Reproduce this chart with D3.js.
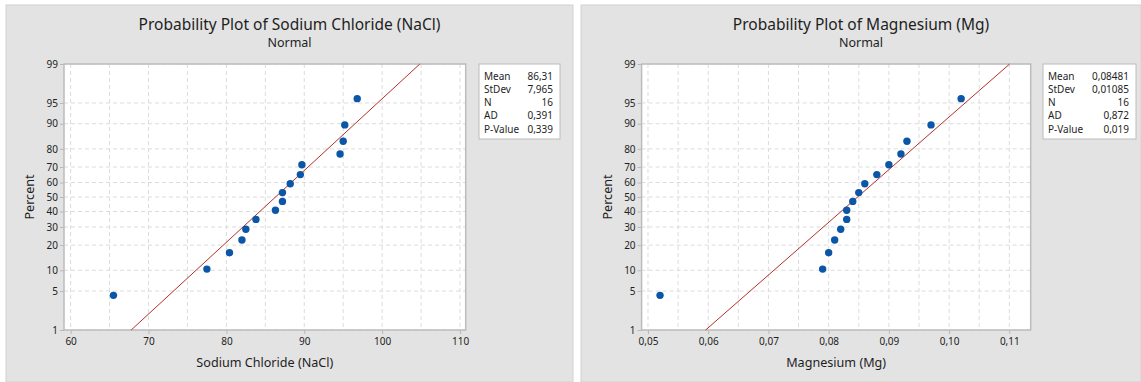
<!DOCTYPE html>
<html>
<head>
<meta charset="utf-8">
<script src="https://cdn.jsdelivr.net/npm/d3@7"></script>
<style>
  body { margin: 0; background: #fff; }
  svg text { font-family: "Noto Sans", "Open Sans", sans-serif; fill: #1e1e1e; }
</style>
</head>
<body>
<div id="chart"></div>
<script>
// percent scale ticks (normal probability axis)
const percentTicks = [1, 5, 10, 20, 30, 40, 50, 60, 70, 80, 90, 95, 99];
// plotting positions (percent) of the 16 sorted points
const plotPercents = [4.27, 10.37, 16.46, 22.56, 28.66, 34.76, 40.85, 46.95,
                      53.05, 59.15, 65.24, 71.34, 77.44, 83.54, 89.63, 95.73];

// Sodium chloride, sorted
const naclValues = [65.5, 77.5, 80.4, 82.0, 82.5, 83.8, 86.3, 87.2,
                    87.2, 88.2, 89.5, 89.7, 94.6, 95.0, 95.2, 96.8];
const naclTicks = [60, 70, 80, 90, 100, 110];
const naclGrid = [60, 65, 70, 75, 80, 85, 90, 95, 100, 105, 110];

// Magnesium, sorted
const mgValues = [0.052, 0.079, 0.080, 0.081, 0.082, 0.083, 0.083, 0.084,
                  0.085, 0.086, 0.088, 0.090, 0.092, 0.093, 0.097, 0.102];
const mgTicks = [0.05, 0.06, 0.07, 0.08, 0.09, 0.10, 0.11];
const mgGrid = [0.05, 0.055, 0.06, 0.065, 0.07, 0.075, 0.08, 0.085, 0.09, 0.095, 0.10, 0.105, 0.11];

// stats boxes
const statNames = ["Mean", "StDev", "N", "AD", "P-Value"];
const naclStats = ["86,31", "7,965", "16", "0,391", "0,339"];
const mgStats = ["0,08481", "0,01085", "16", "0,872", "0,019"];
const naclFit = { mean: 86.31, sd: 7.965 };
const mgFit = { mean: 0.08481, sd: 0.01085 };

const W = 1141, H = 382;

const svg = d3.select("#chart").append("svg")
    .attr("width", W)
    .attr("height", H);

// inverse normal cdf (Acklam) for the probability axis
function probit(p) {
    const a = [-3.969683028665376e+01, 2.209460984245205e+02, -2.759285104469687e+02, 1.383577518672690e+02, -3.066479806614716e+01, 2.506628277459239e+00];
    const b = [-5.447609879822406e+01, 1.615858368580409e+02, -1.556989798598866e+02, 6.680131188771972e+01, -1.328068155288572e+01];
    const c = [-7.784894002430293e-03, -3.223964580411365e-01, -2.400758277161838e+00, -2.549732539343734e+00, 4.374664141464968e+00, 2.938163982698783e+00];
    const d = [7.784695709041462e-03, 3.224671290700398e-01, 2.445134137142996e+00, 3.754408661907416e+00];
    const pl = 0.02425;
    let q, r;
    if (p < pl) {
        q = Math.sqrt(-2 * Math.log(p));
        return (((((c[0]*q+c[1])*q+c[2])*q+c[3])*q+c[4])*q+c[5]) / ((((d[0]*q+d[1])*q+d[2])*q+d[3])*q+1);
    }
    if (p > 1 - pl) {
        q = Math.sqrt(-2 * Math.log(1 - p));
        return -(((((c[0]*q+c[1])*q+c[2])*q+c[3])*q+c[4])*q+c[5]) / ((((d[0]*q+d[1])*q+d[2])*q+d[3])*q+1);
    }
    q = p - 0.5;
    r = q * q;
    return (((((a[0]*r+a[1])*r+a[2])*r+a[3])*r+a[4])*r+a[5])*q / (((((b[0]*r+b[1])*r+b[2])*r+b[3])*r+b[4])*r+1);
}

const commaFmt = d3.formatLocale({ decimal: ",", thousands: ".", grouping: [3], currency: ["", ""] });

function drawPanel(o) {
    const g = svg.append("g");

    // gray panel
    g.append("rect")
        .attr("x", o.panelX).attr("y", 5)
        .attr("width", o.panelW).attr("height", 377)
        .attr("fill", "#e3e3e3")
        .attr("stroke", "#d2d2d2");

    const top = 64, bottom = 330;
    const x = d3.scaleLinear().domain(o.xDomain).range([o.plotL, o.plotR]);
    const y = d3.scaleLinear().domain([probit(0.01), probit(0.99)]).range([bottom, top]);
    const yp = p => y(probit(p / 100));

    g.append("rect")
        .attr("x", o.plotL).attr("y", top)
        .attr("width", o.plotR - o.plotL).attr("height", bottom - top)
        .attr("fill", "#fff");

    // dashed grid
    g.append("g").selectAll("line")
        .data(o.grid)
        .enter().append("line")
        .attr("x1", d => x(d)).attr("x2", d => x(d))
        .attr("y1", top).attr("y2", bottom)
        .attr("stroke", "#dcdcdc")
        .attr("stroke-dasharray", "4,3");

    g.append("g").selectAll("line")
        .data(percentTicks)
        .enter().append("line")
        .attr("x1", o.plotL).attr("x2", o.plotR)
        .attr("y1", d => yp(d)).attr("y2", d => yp(d))
        .attr("stroke", "#dcdcdc")
        .attr("stroke-dasharray", "4,3");

    // axes
    const yAxis = d3.axisLeft(y)
        .tickValues(percentTicks.map(p => probit(p / 100)))
        .tickFormat((d, i) => percentTicks[i])
        .tickSize(4).tickPadding(2);
    const ya = g.append("g").attr("transform", `translate(${o.plotL},0)`).call(yAxis);

    const xAxis = d3.axisBottom(x)
        .tickValues(o.ticks)
        .tickFormat(o.tickFmt)
        .tickSize(4).tickPadding(4);
    const xa = g.append("g").attr("transform", `translate(0,${bottom})`).call(xAxis);

    [ya, xa].forEach(a => {
        a.select(".domain").remove();
        a.selectAll(".tick line").attr("stroke", "#b8b8b8");
        a.selectAll(".tick text")
            .style("font-family", '"Noto Sans", sans-serif')
            .style("font-size", "10px")
            .attr("fill", "#2a2a2a");
    });

    // frame
    g.append("rect")
        .attr("x", o.plotL).attr("y", top)
        .attr("width", o.plotR - o.plotL).attr("height", bottom - top)
        .attr("fill", "none")
        .attr("stroke", "#bcbcbc")
        .attr("stroke-width", 1.5);

    // fitted line from mean/stdev, 1% to 99%
    const zLo = probit(0.01), zHi = probit(0.99);
    g.append("line")
        .attr("x1", x(o.fit.mean + zLo * o.fit.sd)).attr("y1", y(zLo))
        .attr("x2", x(o.fit.mean + zHi * o.fit.sd)).attr("y2", y(zHi))
        .attr("stroke", "#b3302b")
        .attr("stroke-width", 1);

    // points
    g.append("g").selectAll("circle")
        .data(o.values)
        .enter().append("circle")
        .attr("cx", d => x(d))
        .attr("cy", (d, i) => yp(plotPercents[i]))
        .attr("r", 3.7)
        .attr("fill", "#0b56a6");

    // titles, centred on the panel
    const pc = o.panelX + o.panelW / 2;
    g.append("text")
        .attr("x", pc).attr("y", 30)
        .attr("text-anchor", "middle")
        .style("font-size", "15.5px")
        .text(o.title);
    g.append("text")
        .attr("x", pc).attr("y", 46.5)
        .attr("text-anchor", "middle")
        .style("font-size", "12.5px")
        .text("Normal");

    // axis labels, centred on the plot
    const cx = (o.plotL + o.plotR) / 2;
    g.append("text")
        .attr("x", cx).attr("y", 367)
        .attr("text-anchor", "middle")
        .style("font-size", "12.6px")
        .text(o.xLabel);

    g.append("text")
        .attr("transform", `translate(${o.plotL - 30},${(top + bottom) / 2}) rotate(-90)`)
        .attr("text-anchor", "middle")
        .style("font-size", "12.6px")
        .text("Percent");

    // stats box
    g.append("rect")
        .attr("x", o.legL).attr("y", 64)
        .attr("width", o.legR - o.legL).attr("height", 75)
        .attr("fill", "#fff")
        .attr("stroke", "#bcbcbc");

    const rows = g.append("g").selectAll("g")
        .data(statNames)
        .enter().append("g")
        .attr("transform", (d, i) => `translate(0,${79.5 + i * 13.3})`);
    rows.append("text")
        .attr("x", o.legL + 5)
        .style("font-size", "10px")
        .text(d => d);
    rows.append("text")
        .attr("x", o.legR - 7)
        .attr("text-anchor", "end")
        .style("font-size", "10px")
        .text((d, i) => o.stats[i]);
}

drawPanel({
    panelX: 6, panelW: 567,
    plotL: 64, plotR: 465.7,
    xDomain: [59.15, 110.73],
    ticks: naclTicks, grid: naclGrid,
    tickFmt: d3.format("d"),
    values: naclValues, fit: naclFit,
    title: "Probability Plot of Sodium Chloride (NaCl)",
    xLabel: "Sodium Chloride (NaCl)",
    legL: 479, legR: 560, stats: naclStats
});

drawPanel({
    panelX: 581, panelW: 560,
    plotL: 641.6, plotR: 1030.7,
    xDomain: [0.04894, 0.11355],
    ticks: mgTicks, grid: mgGrid,
    tickFmt: commaFmt.format(".2f"),
    values: mgValues, fit: mgFit,
    title: "Probability Plot of Magnesium (Mg)",
    xLabel: "Magnesium (Mg)",
    legL: 1043, legR: 1136, stats: mgStats
});
</script>
</body>
</html>
